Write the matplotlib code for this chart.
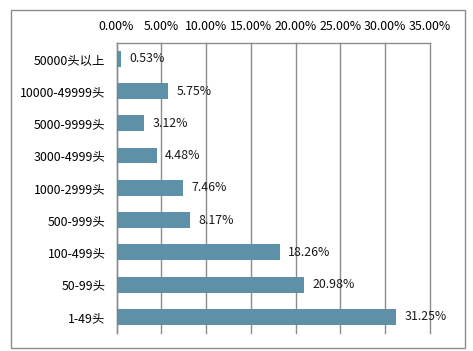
import matplotlib
matplotlib.use('Agg')
import matplotlib.pyplot as plt
from matplotlib.patches import Rectangle
from matplotlib.ticker import FuncFormatter

plt.rcParams['font.family'] = ['Noto Sans CJK SC', 'DejaVu Sans']

categories = ['50000头以上', '10000-49999头', '5000-9999头', '3000-4999头',
              '1000-2999头', '500-999头', '100-499头', '50-99头', '1-49头']
shares = [0.53, 5.75, 3.12, 4.48, 7.46, 8.17, 18.26, 20.98, 31.25]
xticks = [0, 5, 10, 15, 20, 25, 30, 35]

bar_color = '#5E91A8'
grid_color = '#8C8C8C'
fs = 8.9

fig = plt.figure(figsize=(4.73, 3.51), dpi=100)
W, H = 473, 351
ax = fig.add_axes([116.5 / W, 1 - 333 / H, (430 - 116.5) / W, (333 - 42.7) / H])

y = list(range(len(categories)))
ax.barh(y, shares, height=0.49, color=bar_color, zorder=3)
for yi, v in zip(y, shares):
    ax.annotate('%.2f%%' % v, (v, yi), xytext=(6, 0), textcoords='offset points',
                va='center', ha='left', fontsize=fs, color='#1a1a1a', zorder=4)

ax.set_xlim(0, 35)
ax.set_ylim(len(categories) - 0.5, -0.5)
ax.set_yticks(y)
ax.set_yticklabels(categories, fontsize=fs)
ax.set_xticks(xticks)
ax.xaxis.set_major_formatter(FuncFormatter(lambda v, p: '%.2f%%' % v))
ax.xaxis.tick_top()
ax.tick_params(axis='x', length=0, pad=7, labelsize=fs)
ax.tick_params(axis='y', length=0, pad=8)
ax.grid(axis='x', color=grid_color, linewidth=1, zorder=0)
for gl in ax.get_xgridlines():
    gl.set_clip_on(False)
for s in ['bottom', 'right']:
    ax.spines[s].set_visible(False)
for s in ['top', 'left']:
    ax.spines[s].set_color(grid_color)
    ax.spines[s].set_linewidth(1)

# outer chart border
fig.patches.append(Rectangle((10.5 / W, 1 - 347.5 / H), (465 - 10.5) / W, (347.5 - 9.5) / H,
                             transform=fig.transFigure, fill=False,
                             edgecolor='#8C8C8C', linewidth=1))

fig.savefig('out.png', dpi=100)
